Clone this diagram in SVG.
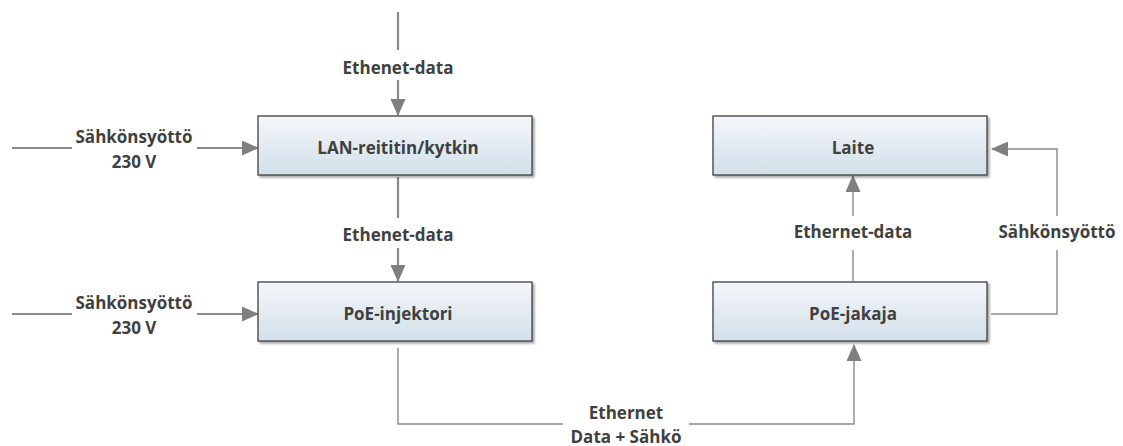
<svg xmlns="http://www.w3.org/2000/svg" width="1123" height="446" viewBox="0 0 1123 446">
<defs>
<linearGradient id="g" x1="0" y1="0" x2="0" y2="1">
<stop offset="0" stop-color="#f4f7fa"/>
<stop offset="1" stop-color="#d2dfe9"/>
</linearGradient>
<marker id="ah" markerWidth="17" markerHeight="15" refX="16" refY="7.5" orient="auto" markerUnits="userSpaceOnUse">
<path d="M0,0 L17,7.5 L0,15 Z" fill="#7f7f7f"/>
</marker>
<filter id="sh" x="-5%" y="-10%" width="115%" height="130%">
<feDropShadow dx="2" dy="2" stdDeviation="1.2" flood-color="#000" flood-opacity="0.35"/>
</filter>
</defs>
<style>
.box{fill:url(#g);stroke:#3f3f3f;stroke-width:1.3;filter:url(#sh)}
.t{font-family:"Open Sans","Liberation Sans",sans-serif;font-weight:bold;font-size:17px;fill:#404040;text-anchor:middle}
.c{fill:none;stroke:#8a8a8a;stroke-width:2.2}
.c2{fill:none;stroke:#8a8a8a;stroke-width:1.4}
</style>
<rect width="1123" height="446" fill="#fff"/>
<g id="connectors">
<path class="c" d="M398,12 V50"/>
<path class="c" d="M398,80 V115" marker-end="url(#ah)"/>
<path class="c" d="M398,177 V218"/>
<path class="c" d="M398,248 V281" marker-end="url(#ah)"/>
<path class="c" d="M12,148 H72"/>
<path class="c" d="M197,148 H258" marker-end="url(#ah)"/>
<path class="c" d="M12,314 H72"/>
<path class="c" d="M197,314 H258" marker-end="url(#ah)"/>
<path class="c2" d="M398,348 V424 H563"/>
<path class="c2" d="M689,424 H854 V345" marker-end="url(#ah)"/>
<path class="c2" d="M853,281 V250"/>
<path class="c2" d="M853,216 V176" marker-end="url(#ah)"/>
<path class="c2" d="M991,314 H1057 V250"/>
<path class="c2" d="M1057,216 V149 H992" marker-end="url(#ah)"/>
<text class="t" x="398" y="74">Ethenet-data</text>
<text class="t" x="398" y="241">Ethenet-data</text>
<text class="t" x="134" y="143">Sähkönsyöttö</text>
<text class="t" x="134" y="168">230 V</text>
<text class="t" x="134" y="309">Sähkönsyöttö</text>
<text class="t" x="134" y="334">230 V</text>
<text class="t" x="626" y="419">Ethernet</text>
<text class="t" x="626" y="443">Data + Sähkö</text>
<text class="t" x="853" y="238">Ethernet-data</text>
<text class="t" x="1057" y="238">Sähkönsyöttö</text>
</g>
<g id="lan">
<rect class="box" x="258" y="116" width="274" height="59"/>
<text class="t" x="398" y="154">LAN-reititin/kytkin</text>
</g>
<g id="poe-injektori">
<rect class="box" x="258" y="282" width="274" height="59"/>
<text class="t" x="398" y="320">PoE-injektori</text>
</g>
<g id="laite">
<rect class="box" x="713" y="116" width="274" height="59"/>
<text class="t" x="853" y="154">Laite</text>
</g>
<g id="poe-jakaja">
<rect class="box" x="713" y="282" width="274" height="59"/>
<text class="t" x="853" y="320">PoE-jakaja</text>
</g>
</svg>
